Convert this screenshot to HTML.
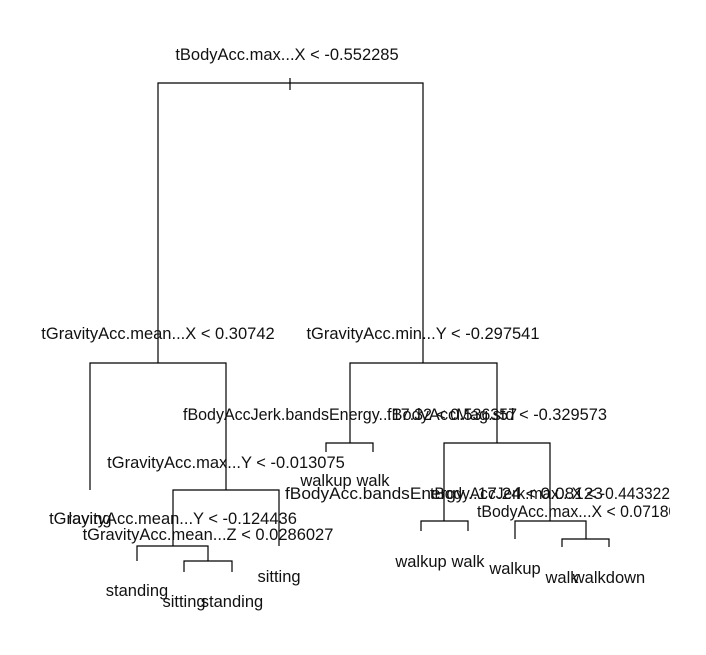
<!DOCTYPE html>
<html><head><meta charset="utf-8"><style>
html,body{margin:0;padding:0;background:#fff;}
svg{display:block;}
text{font-family:"Liberation Sans",Arial,sans-serif;font-size:16.5px;fill:#111;text-anchor:middle;}
</style></head><body>
<svg width="706" height="655" viewBox="0 0 706 655">
<defs><clipPath id="c"><rect x="0" y="0" width="670" height="655"/></clipPath></defs>
<g stroke="#000" stroke-width="1.2" fill="none">
<path d="M290 78V90"/>
<path d="M158 363V83H423V363"/>
<path d="M90 490V363H226V490"/>
<path d="M350 443V363H497V443"/>
<path d="M326 452V443H373V452"/>
<path d="M444 521V443H550V521"/>
<path d="M173 546V490H279V546"/>
<path d="M137 561V546H208V561"/>
<path d="M184 572V561H232V572"/>
<path d="M421 531V521H468V531"/>
<path d="M515 539V521H586V539"/>
<path d="M562 547V539H609V547"/>
</g>
<g clip-path="url(#c)">
<text x="287" y="60">tBodyAcc.max...X &lt; -0.552285</text>
<text x="158" y="339">tGravityAcc.mean...X &lt; 0.30742</text>
<text x="423" y="339">tGravityAcc.min...Y &lt; -0.297541</text>
<text x="350" y="420" textLength="334" lengthAdjust="spacingAndGlyphs">fBodyAccJerk.bandsEnergy...17.32 &lt; 0.536357</text>
<text x="497" y="420" textLength="220" lengthAdjust="spacingAndGlyphs">fBodyAccMag.std &lt; -0.329573</text>
<text x="226" y="468">tGravityAcc.max...Y &lt; -0.013075</text>
<text x="326" y="486">walkup</text>
<text x="373" y="486">walk</text>
<text x="444" y="499" textLength="318" lengthAdjust="spacingAndGlyphs">fBodyAcc.bandsEnergy...17.24 &lt; 0.08123</text>
<text x="550" y="499" textLength="240" lengthAdjust="spacingAndGlyphs">tBodyAccJerk.max...X &lt; -0.443322</text>
<text x="586" y="517" textLength="218" lengthAdjust="spacingAndGlyphs">tBodyAcc.max...X &lt; 0.0718065</text>
<text x="90" y="524">laying</text>
<text x="173" y="524">tGravityAcc.mean...Y &lt; -0.124436</text>
<text x="208" y="540">tGravityAcc.mean...Z &lt; 0.0286027</text>
<text x="421" y="567">walkup</text>
<text x="468" y="567">walk</text>
<text x="515" y="574">walkup</text>
<text x="562" y="583">walk</text>
<text x="609" y="583">walkdown</text>
<text x="279" y="582">sitting</text>
<text x="137" y="596">standing</text>
<text x="184" y="607">sitting</text>
<text x="232" y="607">standing</text>
</g>
</svg>
</body></html>
